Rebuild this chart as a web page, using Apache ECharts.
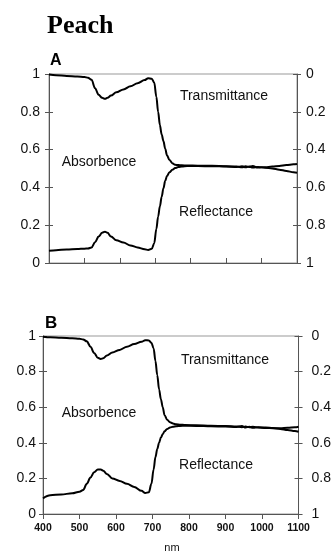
<!DOCTYPE html>
<html>
<head>
<meta charset="utf-8">
<script src="https://cdn.jsdelivr.net/npm/echarts@6/dist/echarts.min.js"></script>
<style>
html,body{margin:0;padding:0;background:#fff;}
#c{width:334px;height:551px;}
</style>
</head>
<body>
<div id="c"></div>
<script>
// Wavelengths (nm)
const wavelengths = [400,420,450,480,500,510,520,530,540,550,558,565,575,590,610,630,650,670,680,690,697,703,708,713,718,723,728,733,740,748,756,765,775,790,820,860,900,930,945,955,965,975,990,1010,1030,1050,1070,1090,1100];

// Panel A
const transA = [0.003,0.007,0.010,0.013,0.016,0.020,0.030,0.075,0.110,0.126,0.131,0.126,0.114,0.097,0.082,0.065,0.049,0.032,0.022,0.025,0.045,0.120,0.200,0.270,0.320,0.355,0.395,0.430,0.455,0.472,0.480,0.482,0.483,0.484,0.485,0.486,0.488,0.490,0.493,0.488,0.492,0.487,0.495,0.493,0.490,0.487,0.482,0.478,0.476];
const reflA = [0.065,0.068,0.072,0.074,0.076,0.077,0.082,0.110,0.140,0.160,0.166,0.160,0.140,0.120,0.108,0.093,0.082,0.073,0.069,0.075,0.105,0.180,0.245,0.300,0.350,0.395,0.435,0.460,0.480,0.493,0.502,0.508,0.511,0.513,0.513,0.512,0.511,0.508,0.512,0.506,0.511,0.505,0.508,0.504,0.500,0.494,0.487,0.480,0.478];

// Panel B
const transB = [0.004,0.007,0.010,0.013,0.016,0.019,0.030,0.060,0.095,0.122,0.129,0.125,0.110,0.093,0.078,0.060,0.045,0.032,0.024,0.025,0.038,0.070,0.140,0.220,0.300,0.355,0.400,0.445,0.470,0.485,0.492,0.496,0.498,0.500,0.502,0.504,0.506,0.508,0.512,0.509,0.512,0.510,0.514,0.514,0.517,0.522,0.528,0.534,0.538];
const reflB = [0.088,0.105,0.110,0.116,0.125,0.135,0.170,0.205,0.235,0.250,0.250,0.243,0.225,0.200,0.186,0.170,0.152,0.130,0.118,0.122,0.170,0.250,0.320,0.365,0.400,0.430,0.448,0.465,0.478,0.486,0.490,0.493,0.495,0.496,0.495,0.493,0.491,0.489,0.494,0.486,0.490,0.484,0.487,0.483,0.482,0.482,0.484,0.487,0.490];

const leftTicks = [0,0.2,0.4,0.6,0.8,1];
const xTickLabels = ['400','500','600','700','800','900','1000','1100'];

const pair = (ys) => wavelengths.map((w,i)=>[w,ys[i]]);
const axisCol = '#555';
const font = 'Liberation Sans, Arial, sans-serif';

function xAx(grid, labels, tickInside, showLine){
  return {
    type:'value', gridIndex:grid, min:400, max:1100, interval:100,
    axisLine:{show:showLine, lineStyle:{color:axisCol,width:1}},
    axisTick:{show:true, inside:tickInside, length:5, lineStyle:{color:axisCol}},
    axisLabel:{show:labels, color:'#111', fontFamily:font, fontWeight:'bold', fontSize:10.5, margin:9,
      formatter:(v)=> xTickLabels[Math.round((v-400)/100)] || String(v)},
    splitLine:{show:false}
  };
}
function yAx(grid, pos, inverse, labels, tickInside, showLine, margin){
  return {
    type:'value', gridIndex:grid, position:pos, inverse:inverse, min:0, max:1, interval:0.2,
    axisLine:{show:showLine, onZero:false, lineStyle:{color:axisCol,width:1}},
    axisTick:{show:true, inside:tickInside, length:4, lineStyle:{color:axisCol}},
    axisLabel:{show:labels, color:'#111', fontFamily:font, fontSize:14, margin:margin,
      formatter:(v)=> String(leftTicks[Math.round(v*5)])},
    splitLine:{show:false}
  };
}

const lineStyle = {color:'#000', width:2};
function ser(x,y,data){
  return {type:'line', xAxisIndex:x, yAxisIndex:y, data:data, symbol:'none',
    smooth:0.35, smoothMonotone:'x', lineStyle:lineStyle, silent:true, animation:false};
}

const chart = echarts.init(document.getElementById('c'), null, {renderer:'canvas'});
chart.setOption({
  animation:false,
  backgroundColor:'#fff',
  grid:[
    {left:49, top:74, width:248, height:189, show:true, borderColor:'#999', borderWidth:1, backgroundColor:'transparent'},
    {left:43, top:336, width:259, height:178, show:true, borderColor:'#999', borderWidth:1, backgroundColor:'transparent'}
  ],
  xAxis:[
    xAx(0,false,true,true),
    xAx(1,true,false,true),
    xAx(1,false,true,false)
  ],
  yAxis:[
    yAx(0,'left',false,true,false,true,9),
    yAx(0,'left',false,false,true,false,9),
    yAx(0,'right',true,true,false,true,9),
    yAx(0,'right',true,false,true,false,9),
    yAx(1,'left',false,true,false,true,7),
    yAx(1,'left',false,false,true,false,7),
    yAx(1,'right',true,true,false,true,13),
    yAx(1,'right',true,false,true,false,13)
  ],
  series:[
    ser(0,2,pair(transA)),
    ser(0,0,pair(reflA)),
    ser(1,6,pair(transB)),
    ser(1,4,pair(reflB))
  ],
  graphic:[
    {type:'text', left:47, top:13, style:{text:'Peach', font:'bold 26px "Liberation Serif", "Times New Roman", serif', fill:'#000'}},
    {type:'text', left:50, top:53, style:{text:'A', font:'bold 16px "Liberation Sans", Arial, sans-serif', fill:'#000'}},
    {type:'text', left:45, top:315, style:{text:'B', font:'bold 17px "Liberation Sans", Arial, sans-serif', fill:'#000'}},
    {type:'text', x:224, y:96, style:{text:'Transmittance', font:'14px "Liberation Sans", Arial, sans-serif', fill:'#111', align:'center', verticalAlign:'middle'}},
    {type:'text', x:99, y:162, style:{text:'Absorbence', font:'14px "Liberation Sans", Arial, sans-serif', fill:'#111', align:'center', verticalAlign:'middle'}},
    {type:'text', x:216, y:212, style:{text:'Reflectance', font:'14px "Liberation Sans", Arial, sans-serif', fill:'#111', align:'center', verticalAlign:'middle'}},
    {type:'text', x:225, y:360, style:{text:'Transmittance', font:'14px "Liberation Sans", Arial, sans-serif', fill:'#111', align:'center', verticalAlign:'middle'}},
    {type:'text', x:99, y:413, style:{text:'Absorbence', font:'14px "Liberation Sans", Arial, sans-serif', fill:'#111', align:'center', verticalAlign:'middle'}},
    {type:'text', x:216, y:465, style:{text:'Reflectance', font:'14px "Liberation Sans", Arial, sans-serif', fill:'#111', align:'center', verticalAlign:'middle'}},
    {type:'text', x:172, y:548, style:{text:'nm', font:'11px "Liberation Sans", Arial, sans-serif', fill:'#111', align:'center', verticalAlign:'middle'}}
  ]
});
</script>
</body>
</html>
